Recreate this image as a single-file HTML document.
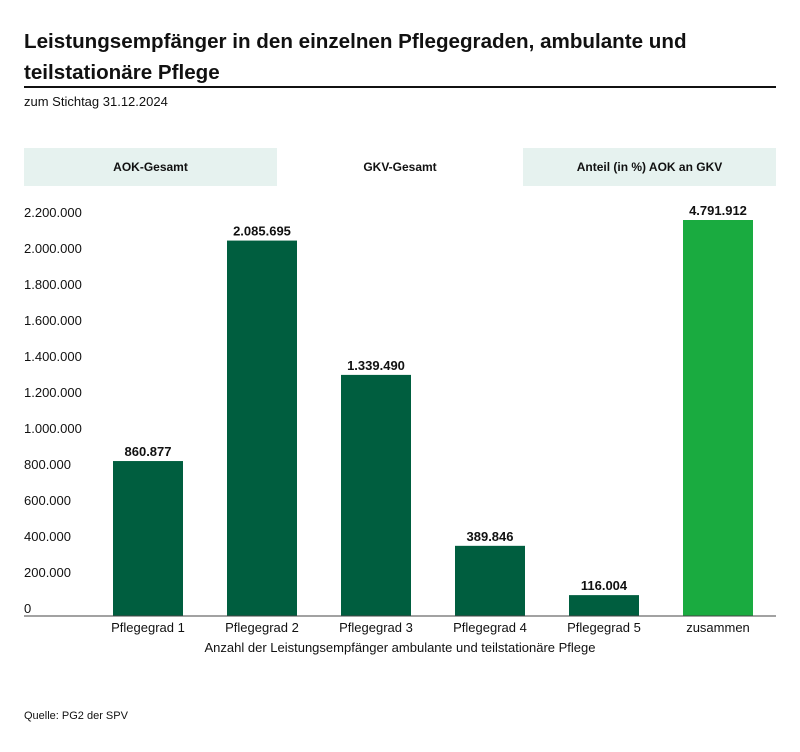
<!DOCTYPE html>
<html><head><meta charset="utf-8"><style>
body{margin:0;background:#fff;font-family:"Liberation Sans",sans-serif;color:#111}
.wrap{position:relative;width:800px;height:752px;overflow:hidden}
.t{position:absolute}
</style></head><body>
<div class="wrap">
<div class="t" style="left:24px;top:26px;font-size:20.6px;font-weight:bold;line-height:31px;width:750px">Leistungsempfänger in den einzelnen Pflegegraden, ambulante und teilstationäre Pflege</div>
<div class="t" style="left:24px;top:86px;width:752px;height:2px;background:#111"></div>
<div class="t" style="left:24px;top:94px;font-size:13px">zum Stichtag 31.12.2024</div>
<div class="t" style="left:24px;top:148px;width:253px;height:38px;background:#e6f2ef;font-size:12px;font-weight:bold;text-align:center;line-height:38px">AOK-Gesamt</div>
<div class="t" style="left:277px;top:151px;width:246px;height:35px;background:#fff;font-size:12px;font-weight:bold;text-align:center;line-height:32px">GKV-Gesamt</div>
<div class="t" style="left:523px;top:148px;width:253px;height:38px;background:#e6f2ef;font-size:12px;font-weight:bold;text-align:center;line-height:38px">Anteil (in %) AOK an GKV</div>
<svg class="t" style="left:0;top:0" width="800" height="752" id="chart"></svg>
<div class="t" style="left:24px;top:710px;font-size:11px">Quelle: PG2 der SPV</div>
</div>
<script>
const categories=["Pflegegrad 1","Pflegegrad 2","Pflegegrad 3","Pflegegrad 4","Pflegegrad 5","zusammen"];
const values=[860877,2085695,1339490,389846,116004,4791912];
const valueLabels=["860.877","2.085.695","1.339.490","389.846","116.004","4.791.912"];
const ticks=[0,200000,400000,600000,800000,1000000,1200000,1400000,1600000,1800000,2000000,2200000];
const tickLabels=["0","200.000","400.000","600.000","800.000","1.000.000","1.200.000","1.400.000","1.600.000","1.800.000","2.000.000","2.200.000"];
const svg=document.getElementById('chart');const NS="http://www.w3.org/2000/svg";
const y0=616,yMax=2200000,ph=396;
const y=v=>y0-Math.min(v,yMax)/yMax*ph;
const x=i=>113+i*114;
function mk(t,a,txt){const e=document.createElementNS(NS,t);for(const k in a)e.setAttribute(k,a[k]);if(txt!=null)e.textContent=txt;svg.appendChild(e);return e;}
ticks.forEach((t,i)=>{const e=mk('text',{x:24,y:y(t)-3,'font-size':13,fill:'#111'},tickLabels[i]);

});
values.forEach((v,i)=>{
const r=mk('rect',{x:x(i),y:y(v),width:70,height:y0-y(v),fill:i==5?'#1aab40':'#005e3f'});


const l=mk('text',{x:x(i)+35,y:y(v)-5,'font-size':13,'font-weight':'bold','text-anchor':'middle',fill:'#111'},valueLabels[i]);


const c=mk('text',{x:x(i)+35,y:632,'font-size':13,'text-anchor':'middle',fill:'#111'},categories[i]);


});
const ax=mk('line',{x1:24,x2:776,y1:y0,y2:y0,stroke:'#444','stroke-width':1});


const at=mk('text',{x:400,y:652,'font-size':13,'text-anchor':'middle',fill:'#111'},'Anzahl der Leistungsempfänger ambulante und teilstationäre Pflege');


</script>
</body></html>
